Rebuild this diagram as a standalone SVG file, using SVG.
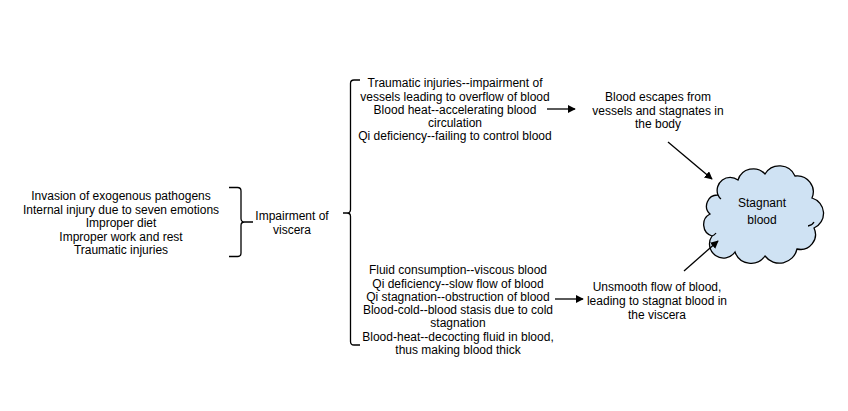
<svg xmlns="http://www.w3.org/2000/svg" width="848" height="411" viewBox="0 0 848 411">
<defs>
<style>
text{font-family:"Liberation Sans",Arial,sans-serif;font-size:12px;fill:#000;text-anchor:middle}
.ln{fill:none;stroke:#000;stroke-width:1.3}
</style>
<marker id="ah" viewBox="0 0 10 10" refX="9" refY="5" markerWidth="8" markerHeight="8" markerUnits="userSpaceOnUse" orient="auto">
<path d="M0,0 L10,5 L0,10 z" fill="#000"/>
</marker>
</defs>
<rect width="848" height="411" fill="#fff"/>
<g id="causes">
<text x="121" y="200">Invasion of exogenous pathogens</text>
<text x="121" y="214">Internal injury due to seven emotions</text>
<text x="121" y="227">Improper diet</text>
<text x="121" y="241">Improper work and rest</text>
<text x="121" y="254">Traumatic injuries</text>
</g>
<g id="impairment">
<text x="292" y="220">Impairment of</text>
<text x="292" y="234">viscera</text>
</g>
<g id="top-block">
<text x="455" y="87">Traumatic injuries--impairment of</text>
<text x="455" y="100.5">vessels leading to overflow of blood</text>
<text x="455" y="113.5">Blood heat--accelerating blood</text>
<text x="455" y="126.5">circulation</text>
<text x="455" y="139.5">Qi deficiency--failing to control blood</text>
</g>
<g id="bottom-block">
<text x="458" y="274">Fluid consumption--viscous blood</text>
<text x="458" y="287.5">Qi deficiency--slow flow of blood</text>
<text x="458" y="301">Qi stagnation--obstruction of blood</text>
<text x="458" y="314">Blood-cold--blood stasis due to cold</text>
<text x="458" y="327">stagnation</text>
<text x="458" y="340.5">Blood-heat--decocting fluid in blood,</text>
<text x="458" y="354">thus making blood thick</text>
</g>
<g id="escape">
<text x="658" y="101">Blood escapes from</text>
<text x="658" y="114.5">vessels and stagnates in</text>
<text x="658" y="128">the body</text>
</g>
<g id="unsmooth">
<text x="657" y="291">Unsmooth flow of blood,</text>
<text x="657" y="305">leading to stagnat blood in</text>
<text x="657" y="319">the viscera</text>
</g>
<g id="stagnant-blood">
<path d="M718,195 A13,13 0 0 1 738,180 A16,16 0 0 1 765,174 A17,17 0 0 1 795,176 A16,16 0 0 1 812,198 A16,16 0 0 1 814,228 A15,15 0 0 1 797,249 A18,18 0 0 1 765,256 A17,17 0 0 1 735,252 A14,14 0 0 1 712,236 A12,12 0 0 1 710,214 A11,11 0 0 1 718,195 Z" fill="#cfe2f3" stroke="#000" stroke-width="1.3"/>
<path class="ln" d="M808,226 A8,8 0 0 0 814,222 M718,195 A10,10 0 0 0 721,199 M712,236 A8,8 0 0 0 716,233"/>
<text x="762" y="207">Stagnant</text>
<text x="762" y="224">blood</text>
</g>
<g id="connectors">
<path class="ln" d="M229,187.5 L237.5,187.5 Q241,187.5 241,191 L241,218.5 Q241,222 244.5,222 L253,222 M244.5,222 Q241,222 241,225.5 L241,253 Q241,256.5 237.5,256.5 L229,256.5"/>
<path class="ln" d="M360,80 L354,80 Q350.5,80 350.5,83.5 L350.5,209.5 Q350.5,213 347,213 L343,213 M347,213 Q350.5,213 350.5,216.5 L350.5,341.5 Q350.5,345 354,345 L360,345"/>
<line class="ln" x1="547" y1="109" x2="575" y2="109" marker-end="url(#ah)"/>
<line class="ln" x1="555" y1="299" x2="583" y2="299" marker-end="url(#ah)"/>
<line class="ln" x1="668" y1="142" x2="712" y2="179" marker-end="url(#ah)"/>
<line class="ln" x1="684" y1="271" x2="718" y2="241" marker-end="url(#ah)"/>
</g>
</svg>
